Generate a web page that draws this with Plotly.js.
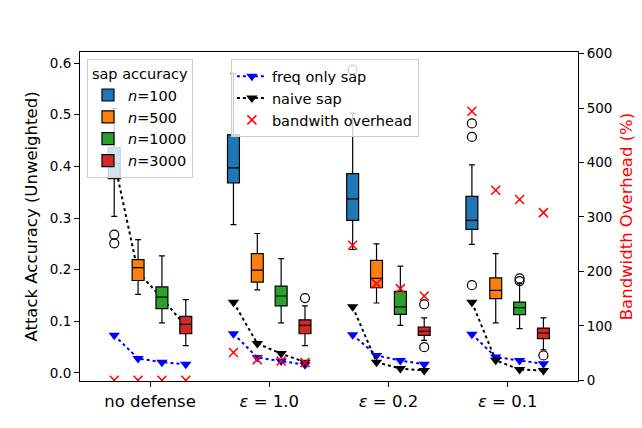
<!DOCTYPE html>
<html>
<head>
<meta charset="utf-8">
<script src="https://cdn.plot.ly/plotly-3.0.1.min.js"></script>
<style>html,body{margin:0;padding:0;background:#fff;} #chart{width:642px;height:428px;}</style>
</head>
<body>
<div id="chart"></div>
<script>
// ---- data ----
const categories = ['no defense', '<i>ε</i> = 1.0', '<i>ε</i> = 0.2', '<i>ε</i> = 0.1'];
const seriesNames = ['<i>n</i>=100', '<i>n</i>=500', '<i>n</i>=1000', '<i>n</i>=3000'];
const seriesColors = ['#1f77b4', '#ff7f0e', '#2ca02c', '#d62728'];

// box statistics per series, one value per category
const n100_q1  = [0.376, 0.368, 0.2955, 0.278];
const n100_med = [0.405, 0.397, 0.337, 0.2955];
const n100_q3  = [0.436, 0.461, 0.386, 0.342];
const n100_lo  = [0.303, 0.287, 0.239, 0.249];
const n100_hi  = [0.512, 0.580, 0.503, 0.403];
const n100_out = [[0.268, 0.251], [], [0.587], [0.483, 0.457, 0.170]];

const n500_q1  = [0.179, 0.176, 0.165, 0.144];
const n500_med = [0.204, 0.199, 0.183, 0.160];
const n500_q3  = [0.2195, 0.231, 0.218, 0.184];
const n500_lo  = [0.152, 0.161, 0.1355, 0.097];
const n500_hi  = [0.258, 0.270, 0.250, 0.231];
const n500_out = [[], [], [], []];

const n1000_q1  = [0.1245, 0.130, 0.1136, 0.113];
const n1000_med = [0.147, 0.149, 0.128, 0.1266];
const n1000_q3  = [0.1665, 0.168, 0.158, 0.137];
const n1000_lo  = [0.097, 0.097, 0.092, 0.086];
const n1000_hi  = [0.2265, 0.2214, 0.207, 0.173];
const n1000_out = [[], [], [], [0.183, 0.178]];

const n3000_q1  = [0.076, 0.076, 0.073, 0.0666];
const n3000_med = [0.094, 0.092, 0.0807, 0.0774];
const n3000_q3  = [0.1097, 0.103, 0.089, 0.087];
const n3000_lo  = [0.053, 0.053, 0.063, 0.045];
const n3000_hi  = [0.142, 0.130, 0.1065, 0.1065];
const n3000_out = [[], [0.145], [0.133, 0.050], [0.034]];

// per category, values at the 4 n-positions
const freqOnly = [[0.073, 0.028, 0.021, 0.017], [0.076, 0.030, 0.023, 0.016], [0.074, 0.034, 0.024, 0.017], [0.075, 0.031, 0.024, 0.018]];
const naiveSap = [[0.41, 0.195, 0.145, 0.09], [0.137, 0.057, 0.0375, 0.021], [0.128, 0.021, 0.0085, 0.005], [0.137, 0.0246, 0.0066, 0.005]];
const bandwidth = [[0, 0, 0, 0], [51, 38, 35.4, 32.5], [248, 177.6, 168.4, 154.9], [494, 349, 332, 308]];

// ---- build ----
const offsets = [-0.3, -0.1, 0.1, 0.3];
const catPos = categories.map((c, i) => i + 1);
const boxStats = [
  [n100_q1, n100_med, n100_q3, n100_lo, n100_hi, n100_out],
  [n500_q1, n500_med, n500_q3, n500_lo, n500_hi, n500_out],
  [n1000_q1, n1000_med, n1000_q3, n1000_lo, n1000_hi, n1000_out],
  [n3000_q1, n3000_med, n3000_q3, n3000_lo, n3000_hi, n3000_out]
];

const traces = [];

function groupedLine(vals) {
  const xs = [], ys = [];
  vals.forEach((g, ci) => {
    g.forEach((v, si) => { xs.push(catPos[ci] + offsets[si]); ys.push(v); });
    xs.push(null); ys.push(null);
  });
  return {xs, ys};
}

const fo = groupedLine(freqOnly);
traces.push({type: 'scatter', mode: 'lines+markers', x: fo.xs, y: fo.ys, name: 'freq only sap',
  line: {color: 'blue', dash: 'dot', width: 2}, marker: {symbol: 'triangle-down', size: 10, color: 'blue'},
  xaxis: 'x', yaxis: 'y', legend: 'legend2', connectgaps: false});
const ns = groupedLine(naiveSap);
traces.push({type: 'scatter', mode: 'lines+markers', x: ns.xs, y: ns.ys, name: 'naive sap',
  line: {color: 'black', dash: 'dot', width: 2}, marker: {symbol: 'triangle-down', size: 10, color: 'black'},
  xaxis: 'x', yaxis: 'y', legend: 'legend2', connectgaps: false});

boxStats.forEach((s, si) => {
  traces.push({type: 'box', name: seriesNames[si], x: catPos.map(p => p + offsets[si]),
    q1: s[0], median: s[1], q3: s[2], lowerfence: s[3], upperfence: s[4],
    width: 0.1, whiskerwidth: 0.5, boxpoints: false,
    fillcolor: seriesColors[si], line: {color: 'black', width: 1.2},
    xaxis: 'x', yaxis: 'y2', legend: 'legend', hoverinfo: 'skip'});
  const ox = [], oy = [];
  s[5].forEach((arr, ci) => arr.forEach(v => { ox.push(catPos[ci] + offsets[si]); oy.push(v); }));
  if (ox.length) traces.push({type: 'scatter', mode: 'markers', x: ox, y: oy, showlegend: false,
    marker: {symbol: 'circle-open', size: 9, color: 'black', line: {width: 1.2}}, xaxis: 'x', yaxis: 'y2'});
});

const bw = groupedLine(bandwidth);
traces.push({type: 'scatter', mode: 'markers', x: bw.xs, y: bw.ys, name: 'bandwith overhead',
  marker: {symbol: 'x-thin', size: 9, color: 'red', line: {color: 'red', width: 1.5}},
  xaxis: 'x', yaxis: 'y3', legend: 'legend2'});

const leftRange = [-0.0155, 0.6213];
const font = {family: 'DejaVu Sans', color: '#000'};

const layout = {
  width: 642, height: 428,
  margin: {l: 80, r: 64, t: 52, b: 47},
  paper_bgcolor: '#fff', plot_bgcolor: '#fff',
  font: Object.assign({size: 13.5}, font),
  boxmode: 'overlay',
  xaxis: {range: [0.4128, 4.59], tickvals: catPos, ticktext: categories, tickfont: {size: 16.5},
    showgrid: false, zeroline: false, showline: true, mirror: true, linecolor: '#000', linewidth: 1,
    ticks: 'outside', ticklen: 5, tickcolor: '#000'},
  yaxis: {range: leftRange, tickvals: [0, 0.1, 0.2, 0.3, 0.4, 0.5, 0.6], tickformat: '.1f',
    title: {text: 'Attack Accuracy (Unweighted)', font: {size: 16.5}, standoff: 8},
    showgrid: false, zeroline: false, showline: true, mirror: true, linecolor: '#000', linewidth: 1,
    ticks: 'outside', ticklen: 5, tickcolor: '#000'},
  yaxis2: {range: leftRange, overlaying: 'y', visible: false, showgrid: false, zeroline: false},
  yaxis3: {range: [-1.3, 603], overlaying: 'y', side: 'right', tickvals: [0, 100, 200, 300, 400, 500, 600],
    title: {text: 'Bandwidth Overhead (%)', font: {size: 16.5, color: 'red'}, standoff: 8},
    showgrid: false, zeroline: false, showline: false,
    ticks: 'outside', ticklen: 5, tickcolor: '#000'},
  legend: {x: 0.014, y: 0.978, xanchor: 'left', yanchor: 'top',
    title: {text: 'sap accuracy', side: 'top center', font: {size: 14.5}},
    font: {size: 14.5}, bgcolor: 'rgba(255,255,255,0.8)', bordercolor: '#cccccc', borderwidth: 1},
  legend2: {x: 0.303, y: 0.978, xanchor: 'left', yanchor: 'top',
    font: {size: 14.5}, bgcolor: 'rgba(255,255,255,0.8)', bordercolor: '#cccccc', borderwidth: 1}
};

Plotly.newPlot('chart', traces, layout, {staticPlot: true, displayModeBar: false});
</script>
</body>
</html>
